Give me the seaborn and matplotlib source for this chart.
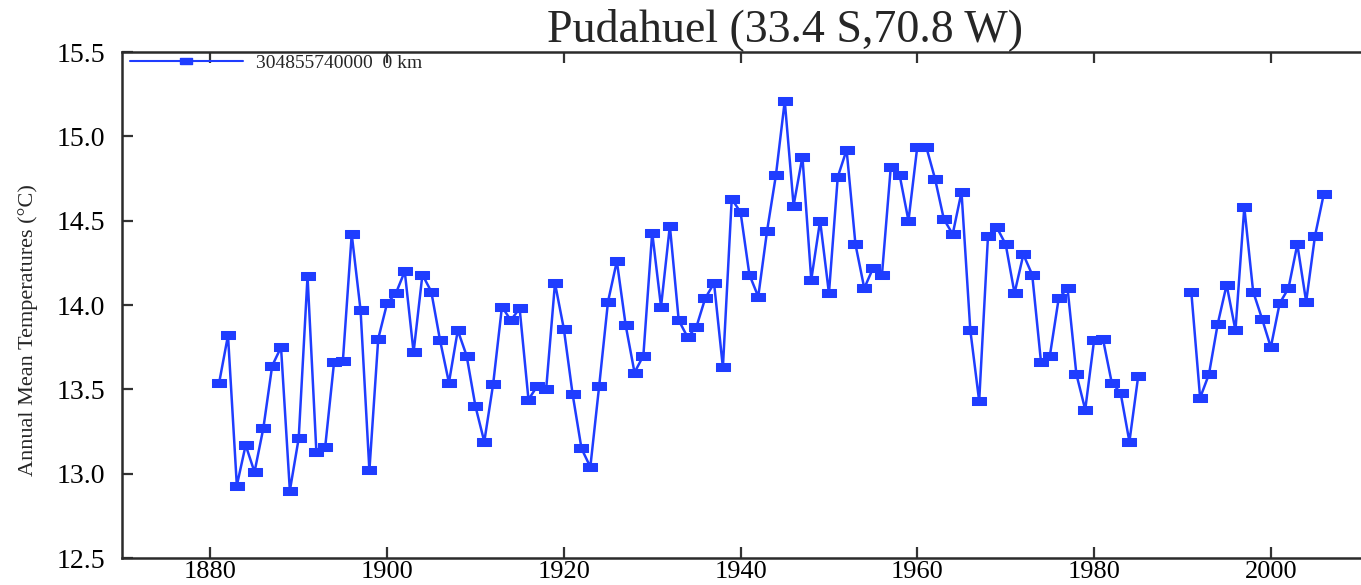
import pandas as pd
import matplotlib.pyplot as plt
import seaborn as sns
from matplotlib.lines import Line2D

# annual mean temperatures
years_a = list(range(1881, 1986))
temps_a = [
    13.54, 13.82, 12.93, 13.17, 13.01, 13.27, 13.64, 13.75, 12.90, 13.21,
    14.17, 13.13, 13.16, 13.66, 13.67, 14.42, 13.97, 13.02, 13.80, 14.01,
    14.07, 14.20, 13.72, 14.18, 14.08, 13.79, 13.54, 13.85, 13.70, 13.40,
    13.19, 13.53, 13.99, 13.91, 13.98, 13.44, 13.52, 13.50, 14.13, 13.86,
    13.47, 13.15, 13.04, 13.52, 14.02, 14.26, 13.88, 13.60, 13.70, 14.43,
    13.99, 14.47, 13.91, 13.81, 13.87, 14.04, 14.13, 13.63, 14.63, 14.55,
    14.18, 14.05, 14.44, 14.77, 15.21, 14.59, 14.88, 14.15, 14.50, 14.07,
    14.76, 14.92, 14.36, 14.10, 14.22, 14.18, 14.82, 14.77, 14.50, 14.94,
    14.94, 14.75, 14.51, 14.42, 14.67, 13.85, 13.43, 14.41, 14.46, 14.36,
    14.07, 14.30, 14.18, 13.66, 13.70, 14.04, 14.10, 13.59, 13.38, 13.79,
    13.80, 13.54, 13.48, 13.19, 13.58,
]
years_b = list(range(1991, 2007))
temps_b = [
    14.08, 13.45, 13.59, 13.89, 14.12, 13.85, 14.58, 14.08, 13.92, 13.75,
    14.01, 14.10, 14.36, 14.02, 14.41, 14.66,
]

x_ticks = [1880, 1900, 1920, 1940, 1960, 1980, 2000]
y_ticks = [12.5, 13.0, 13.5, 14.0, 14.5, 15.0, 15.5]
station_label = '304855740000  0 km'

df = pd.concat([
    pd.DataFrame({'year': years_a, 'temp': temps_a, 'segment': 'a'}),
    pd.DataFrame({'year': years_b, 'temp': temps_b, 'segment': 'b'}),
])

sns.set_style('ticks')
plt.rcParams['font.family'] = ['Liberation Serif', 'DejaVu Serif']

blue = '#1f3dff'
rect = [(-1, -0.55), (1, -0.55), (1, 0.55), (-1, 0.55), (-1, -0.55)]

fig = plt.figure(figsize=(13.61, 5.85), dpi=100)
ax = fig.add_axes([0.0896, 0.046, 0.974, 0.865])

sns.lineplot(
    data=df, x='year', y='temp', units='segment', estimator=None,
    color=blue, linewidth=1.8, marker=rect, markersize=10,
    markeredgecolor=blue, markerfacecolor=blue, ax=ax
)

ax.set_xlim(1870, 2020)
ax.set_ylim(12.5, 15.5)
ax.set_xticks(x_ticks)
ax.set_yticks(y_ticks)
ax.set_yticklabels([f'{v:.1f}' for v in y_ticks])
ax.tick_params(direction='in', length=8, width=1.6, colors='#333333',
               labelcolor='black', labelsize=20, top=True, right=False)
ax.tick_params(axis='x', pad=2, labelsize=19)
ax.tick_params(axis='y', pad=12)
for s in ax.spines.values():
    s.set_linewidth(1.8)
    s.set_color('#2b2b2b')
ax.spines['right'].set_visible(False)

ax.set_xlabel('')
ax.set_ylabel('Annual Mean Temperatures (°C)', fontsize=16)
ax.yaxis.set_label_coords(-0.063, 0.45)
ax.set_title('Pudahuel (33.4 S,70.8 W)', fontsize=33, pad=8)

handle = Line2D([], [], color=blue, linewidth=1.5, marker=rect, markersize=9,
                markerfacecolor=blue, markeredgecolor=blue)
ax.legend([handle], [station_label], loc='upper left', frameon=False,
          fontsize=14, handlelength=5.8, borderaxespad=0.0, borderpad=0.0,
          handletextpad=0.7, bbox_to_anchor=(0.006, 0.995))

fig.savefig('out.png', dpi=100)
plt.close(fig)
